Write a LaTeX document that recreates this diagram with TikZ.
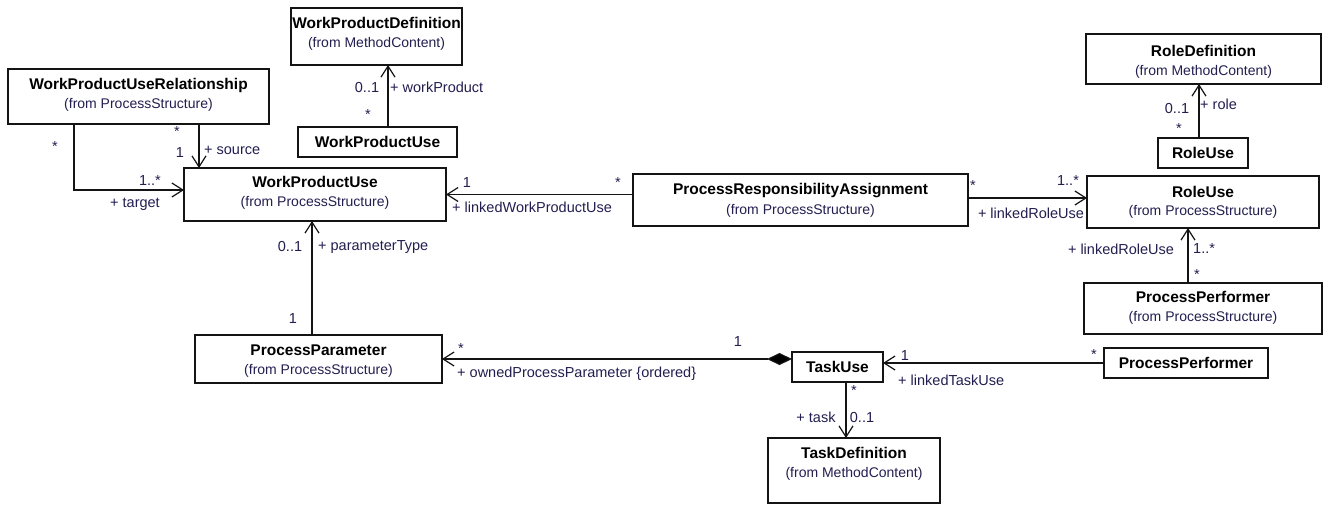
\documentclass[tikz,border=0pt]{standalone}
\usepackage{fontspec}
\setmainfont{Liberation Sans}
\usetikzlibrary{arrows.meta}
\definecolor{linec}{RGB}{20,20,20}
\definecolor{navy}{RGB}{35,30,80}
\newcommand{\ttlfont}{\fontsize{15.5}{18}\selectfont\bfseries}
\newcommand{\subfont}{\fontsize{14}{17}\selectfont}
\newcommand{\lblfont}{\fontsize{14.5}{17}\selectfont}
\tikzset{
  box/.style={draw=linec, line width=1.2pt, inner sep=0pt, outer sep=0pt, fill=white},
  ttl/.style={font=\ttlfont, text=black, text height=11pt, text depth=0pt, inner sep=0pt},
  subt/.style={font=\subfont, text=navy, text height=10pt, text depth=0pt, inner sep=0pt},
  lbl/.style={font=\lblfont, text=navy, text height=10.5pt, text depth=0pt, inner sep=0pt},
  conn/.style={draw=linec, line width=1.2pt},
  assoc/.style={conn, -{Straight Barb[length=11pt,width=14pt,line width=1.2pt]}},
  compo/.style={conn, {Diamond[length=25pt,width=12pt,fill=black]}-{Straight Barb[length=11pt,width=14pt,line width=1.2pt]}}
}
\begin{document}
\begin{tikzpicture}[x=1pt,y=-1pt]
\useasboundingbox[fill=white] (0,0) rectangle (1326,504);

% boxes
\node[box, minimum width=171pt, minimum height=57pt] (wpd) at (376.5,36.5) {};
\node[box, minimum width=261pt, minimum height=55pt] (wpur) at (138.5,96.5) {};
\node[box, minimum width=159pt, minimum height=30pt] (wpus) at (377.5,142) {};
\node[box, minimum width=262pt, minimum height=53pt] (wpu) at (315,194.5) {};
\node[box, minimum width=335pt, minimum height=52pt] (pra) at (800.5,200) {};
\node[box, minimum width=235pt, minimum height=50pt] (rd) at (1203.5,59) {};
\node[box, minimum width=90pt, minimum height=30pt] (rus) at (1203,153) {};
\node[box, minimum width=232pt, minimum height=52pt] (ru) at (1203,202) {};
\node[box, minimum width=238pt, minimum height=51pt] (ppr) at (1203,308.5) {};
\node[box, minimum width=247pt, minimum height=48pt] (ppar) at (318.5,359) {};
\node[box, minimum width=91pt, minimum height=30pt] (tu) at (837.5,367) {};
\node[box, minimum width=172pt, minimum height=65pt] (td) at (854,470.5) {};
\node[box, minimum width=164pt, minimum height=30pt] (pps) at (1186,363) {};

% box texts
\node[ttl] (wpdT) at (376.5,23) {WorkProductDefinition};
\node[subt] (wpdS) at (376.5,42) {(from MethodContent)};
\node[ttl] (wpurT) at (138.5,83.5) {WorkProductUseRelationship};
\node[subt] (wpurS) at (138.5,103) {(from ProcessStructure)};
\node[ttl] (wpusT) at (377.5,142) {WorkProductUse};
\node[ttl] (wpuT) at (315,182) {WorkProductUse};
\node[subt] (wpuS) at (315,201) {(from ProcessStructure)};
\node[ttl] (praT) at (800.5,189) {ProcessResponsibilityAssignment};
\node[subt] (praS) at (800.5,209) {(from ProcessStructure)};
\node[ttl] (rdT) at (1203.5,51) {RoleDefinition};
\node[subt] (rdS) at (1203.5,70) {(from MethodContent)};
\node[ttl] (rusT) at (1203,153) {RoleUse};
\node[ttl] (ruT) at (1203,192) {RoleUse};
\node[subt] (ruS) at (1203,210) {(from ProcessStructure)};
\node[ttl] (pprT) at (1203,297) {ProcessPerformer};
\node[subt] (pprS) at (1203,316) {(from ProcessStructure)};
\node[ttl] (pparT) at (318.5,350) {ProcessParameter};
\node[subt] (pparS) at (318.5,369) {(from ProcessStructure)};
\node[ttl] (tuT) at (837.5,367) {TaskUse};
\node[ttl] (tdT) at (854,453) {TaskDefinition};
\node[subt] (tdS) at (854,472) {(from MethodContent)};
\node[ttl] (ppsT) at (1186,363) {ProcessPerformer};

% connectors
\draw[assoc] ([xshift=10.5pt]wpus.north) coordinate (c1) -- (c1 |- wpd.south);
\draw[assoc] ([xshift=60.5pt]wpur.south) coordinate (c2) -- (c2 |- wpu.north);
\draw[assoc] ([xshift=-64.5pt]wpur.south) |- ([yshift=4.5pt]wpu.west);
\draw[assoc] (pra.west |- wpu.east) -- (wpu.east);
\draw[assoc] ([yshift=2pt]pra.east) coordinate (c3) -- (c3 -| ru.west);
\draw[assoc] ([xshift=-4pt]rus.north) coordinate (c4) -- (c4 |- rd.south);
\draw[assoc] ([xshift=-15pt]ppr.north) coordinate (c5) -- (c5 |- ru.south);
\draw[assoc] ([xshift=-6.5pt]ppar.north) coordinate (c6) -- (c6 |- wpu.south);
\draw[compo] (tu.west |- ppar.east) -- (ppar.east);
\draw[assoc] (pps.west) -- (tu.east |- pps.west);
\draw[assoc] ([xshift=8.5pt]tu.south) coordinate (c7) -- (c7 |- td.north);

% connector labels
\node[lbl] (l1) at (367,87) {0..1};
\node[lbl, anchor=west] (l2) at (390,87) {+ workProduct};
\node[lbl] (l3) at (368,114) {*};
\node[lbl] (l4) at (55,146) {*};
\node[lbl] (l5) at (177,131) {*};
\node[lbl] (l6) at (180,152) {1};
\node[lbl, anchor=west] (l7) at (204,149) {+ source};
\node[lbl] (l8) at (150,180) {1..*};
\node[lbl] (l9) at (135,202) {+ target};
\node[lbl] (l10) at (467,182) {1};
\node[lbl] (l11) at (618,182) {*};
\node[lbl, anchor=west] (l12) at (452,207) {+ linkedWorkProductUse};
\node[lbl] (l13) at (973,185) {*};
\node[lbl] (l14) at (1068,180) {1..*};
\node[lbl] (l15) at (1031,213) {+ linkedRoleUse};
\node[lbl] (l16) at (1177,108) {0..1};
\node[lbl, anchor=west] (l17) at (1200,104) {+ role};
\node[lbl] (l18) at (1179,128) {*};
\node[lbl] (l19) at (1121,249) {+ linkedRoleUse};
\node[lbl, anchor=west] (l20) at (1193,248) {1..*};
\node[lbl] (l21) at (1197,274) {*};
\node[lbl] (l22) at (290,246) {0..1};
\node[lbl, anchor=west] (l23) at (318,245) {+ parameterType};
\node[lbl] (l24) at (293,318) {1};
\node[lbl] (l25) at (461,348) {*};
\node[lbl, anchor=west] (l26) at (457,372) {+ ownedProcessParameter {\{}ordered{\}}};
\node[lbl] (l27) at (738,341) {1};
\node[lbl] (l28) at (854,390) {*};
\node[lbl] (l29) at (816,417) {+ task};
\node[lbl] (l30) at (862,417) {0..1};
\node[lbl] (l31) at (905,355) {1};
\node[lbl, anchor=west] (l32) at (898,380) {+ linkedTaskUse};
\node[lbl] (l33) at (1094,354) {*};
\end{tikzpicture}
\end{document}
